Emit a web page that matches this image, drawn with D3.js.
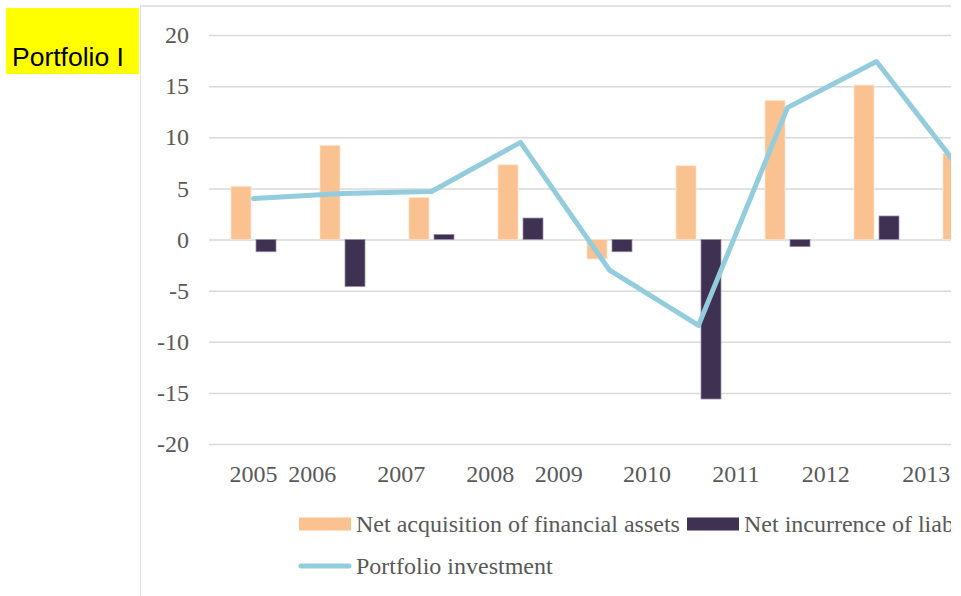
<!DOCTYPE html>
<html>
<head>
<meta charset="utf-8">
<script src="https://cdn.jsdelivr.net/npm/d3@7"></script>
<style>
  html, body { margin: 0; padding: 0; background: #fff; }
  svg { display: block; }
</style>
</head>
<body>
<svg id="chart" width="961" height="596"></svg>
<script>
// ---- data ----
const years = ["2005","2006","2007","2008","2009","2010","2011","2012","2013"];
const netAcquisition = [5.2, 9.2, 4.1, 7.3, -1.9, 7.2, 13.6, 15.1, 8.4];
const netIncurrence = [-1.2, -4.6, 0.5, 2.1, -1.2, -15.6, -0.7, 2.3, 1.5];
const portfolioInvestment = [4.0, 4.5, 4.7, 9.5, -3.0, -8.4, 12.9, 17.4, 6.2];
const yTicks = [-20, -15, -10, -5, 0, 5, 10, 15, 20];
const xTickLabels = ["2005","2006","2007","2008","2009","2010","2011","2012","2013"];
// label positions along the category axis, in category units (as drawn in the source)
const xTickPositions = [0.5, 1.16, 2.16, 3.16, 3.93, 4.92, 5.92, 6.93, 8.06];
const seriesNames = ["Net acquisition of financial assets", "Net incurrence of liabilities", "Portfolio investment"];
const colors = { acq: "#fac191", inc: "#3f3151", line: "#93cddd" };

// ---- layout ----
const svg = d3.select("#chart");
const W = 961, H = 596;
const plotLeft = 209, step = 89;
const plotRight = plotLeft + step * years.length;
const clipRight = 951;
const yTop = 35, yBottom = 444;

svg.append("defs").append("clipPath").attr("id", "clip")
  .append("rect").attr("x", 140).attr("y", 0).attr("width", clipRight - 140).attr("height", H);

// title box
svg.append("rect").attr("x", 6).attr("y", 8).attr("width", 133).attr("height", 66).attr("fill", "#ffff00");
svg.append("text").attr("x", 12).attr("y", 66)
  .attr("font-family", "'Liberation Sans', Arial, sans-serif").attr("font-size", 26.5)
  .attr("fill", "#000").text("Portfolio I");

const g = svg.append("g").attr("clip-path", "url(#clip)");

// chart frame
g.append("line").attr("x1", 140).attr("x2", 140).attr("y1", 6).attr("y2", H)
  .attr("stroke", "#d9d9d9").attr("stroke-width", 1.5);
g.append("line").attr("x1", 140).attr("x2", clipRight).attr("y1", 6).attr("y2", 6)
  .attr("stroke", "#d9d9d9").attr("stroke-width", 1.5);

// scales
const x = d3.scaleBand().domain(years).range([plotLeft, plotRight]).padding(0);
const xInner = d3.scaleBand().domain(["acq", "inc"]).range([0, step]).paddingInner(0.2).paddingOuter(0.88);
const y = d3.scaleLinear().domain([-20, 20]).range([yBottom, yTop]);
const xLin = d3.scaleLinear().domain([0, years.length]).range([plotLeft, plotRight]);

const font = "'Liberation Serif', 'Times New Roman', serif";
const fs = 24;

// y axis with gridlines
const yAxis = g.append("g").attr("transform", `translate(${plotLeft},0)`)
  .call(d3.axisLeft(y).tickValues(yTicks).tickSize(-(plotRight - plotLeft)).tickPadding(20)
    .tickFormat(d => String(d)));
yAxis.select(".domain").remove();
yAxis.selectAll(".tick line").attr("stroke", "#d9d9d9").attr("stroke-width", 1.5);
yAxis.selectAll(".tick text").attr("font-family", font).attr("font-size", fs).attr("fill", "#595959");

// bars
const bars = g.append("g");
bars.selectAll("rect.acq").data(netAcquisition).join("rect").attr("class", "acq")
  .attr("x", (d, i) => x(years[i]) + xInner("acq"))
  .attr("width", xInner.bandwidth())
  .attr("y", d => y(Math.max(0, d)))
  .attr("height", d => Math.abs(y(d) - y(0)))
  .attr("fill", colors.acq).attr("stroke", "#fde3cc").attr("stroke-width", 0.75);
bars.selectAll("rect.inc").data(netIncurrence).join("rect").attr("class", "inc")
  .attr("x", (d, i) => x(years[i]) + xInner("inc"))
  .attr("width", xInner.bandwidth())
  .attr("y", d => y(Math.max(0, d)))
  .attr("height", d => Math.abs(y(d) - y(0)))
  .attr("fill", colors.inc).attr("stroke", "#9a90a6").attr("stroke-width", 0.75);

// line
const line = d3.line()
  .x((d, i) => x(years[i]) + x.bandwidth() / 2)
  .y(d => y(d));
g.append("path").datum(portfolioInvestment)
  .attr("d", line).attr("fill", "none")
  .attr("stroke", colors.line).attr("stroke-width", 5)
  .attr("stroke-linejoin", "round").attr("stroke-linecap", "round");

// x tick labels
g.append("g").selectAll("text").data(xTickLabels).join("text")
  .attr("x", (d, i) => xLin(xTickPositions[i]))
  .attr("y", 482)
  .attr("text-anchor", "middle")
  .attr("font-family", font).attr("font-size", fs).attr("fill", "#595959")
  .text(d => d);

// legend
const leg = g.append("g");
const legItems = [
  { name: seriesNames[0], type: "rect", color: colors.acq, x: 299, y: 524 },
  { name: seriesNames[1], type: "rect", color: colors.inc, x: 687, y: 524 },
  { name: seriesNames[2], type: "line", color: colors.line, x: 299, y: 566 }
];
legItems.forEach(it => {
  if (it.type === "rect") {
    leg.append("rect").attr("x", it.x).attr("y", it.y - 6.5).attr("width", 52).attr("height", 13).attr("fill", it.color);
  } else {
    leg.append("line").attr("x1", it.x + 2).attr("x2", it.x + 50).attr("y1", it.y).attr("y2", it.y)
      .attr("stroke", it.color).attr("stroke-width", 5).attr("stroke-linecap", "round");
  }
  leg.append("text").attr("x", it.x + 57).attr("y", it.y + 8)
    .attr("font-family", font).attr("font-size", fs).attr("fill", "#595959").text(it.name);
});
</script>
</body>
</html>
